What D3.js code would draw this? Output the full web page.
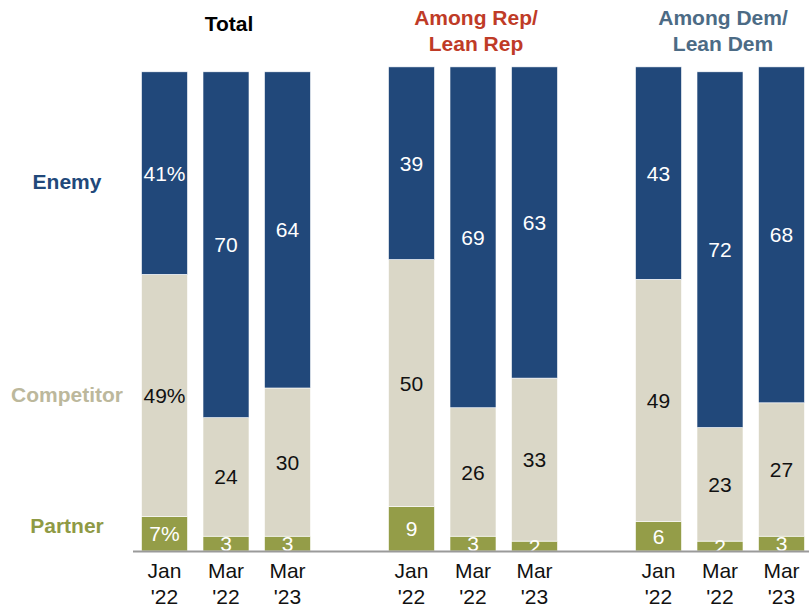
<!DOCTYPE html>
<html>
<head>
<meta charset="utf-8">
<script src="https://cdn.jsdelivr.net/npm/d3@7"></script>
<style>
  html, body { margin: 0; padding: 0; background: #fff; }
  svg text { font-family: "Liberation Sans", Arial, sans-serif; }
</style>
</head>
<body>
<svg id="chart" width="809" height="608"></svg>
<script>
// Views of China: enemy / competitor / partner, by party, three survey waves
const groups = ["Total", "Rep", "Dem"];
const groupTitles = [["Total"], ["Among Rep/", "Lean Rep"], ["Among Dem/", "Lean Dem"]];
const periods = ["Jan '22", "Mar '22", "Mar '23"];
const segments = ["Partner", "Competitor", "Enemy"];

const partner    = [[7, 3, 3], [9, 3, 2], [6, 2, 3]];
const competitor = [[49, 24, 30], [50, 26, 33], [49, 23, 27]];
const enemy      = [[41, 70, 64], [39, 69, 63], [43, 72, 68]];

const colors = { Partner: "#949d48", Competitor: "#dad7c7", Enemy: "#21487a" };
const labelColors = { Partner: "#8f9a45", Competitor: "#bcb89c", Enemy: "#21487a" };
const textColors = { Partner: "#fff", Competitor: "#111", Enemy: "#fff" };
const titleColors = ["#000", "#bf3b27", "#4c6b85"];

const svg = d3.select("#chart");

const y = d3.scaleLinear().domain([0, 100]).range([551, 57]);
// x0 gives each group's centre; x1 places the three bars around it
const x0 = d3.scalePoint().domain(groups).range([226, 720]);
const x1 = d3.scaleBand().domain(periods).range([-92.25, 92.25])
  .paddingInner(0.252).paddingOuter(0.126);

const valuesBy = { Partner: partner, Competitor: competitor, Enemy: enemy };

// Build stacked rows
const rows = [];
groups.forEach((g, gi) => {
  periods.forEach((p, pi) => {
    const row = { group: g, period: p, gi, pi };
    segments.forEach(s => row[s] = valuesBy[s][gi][pi]);
    rows.push(row);
  });
});
const stack = d3.stack().keys(segments);
const series = stack(rows);

const barsG = svg.append("g");
const valuesG = svg.append("g");

series.forEach(layer => {
  const key = layer.key;
  layer.forEach(d => {
    const r = d.data;
    const bx = x0(r.group) + x1(r.period);
    barsG.append("rect")
      .attr("x", bx)
      .attr("width", x1.bandwidth())
      .attr("y", y(d[1]))
      .attr("height", y(d[0]) - y(d[1]))
      .attr("fill", colors[key])
      .attr("stroke", "#fff")
      .attr("stroke-width", 0.6);
    const v = r[key];
    const isFirst = r.gi === 0 && r.pi === 0;
    valuesG.append("text")
      .attr("x", bx + x1.bandwidth() / 2)
      .attr("y", (y(d[0]) + y(d[1])) / 2)
      .attr("dy", "0.36em")
      .attr("text-anchor", "middle")
      .attr("font-size", 21)
      .attr("fill", textColors[key])
      .text(isFirst ? v + "%" : v);
  });
});

// Baseline
svg.append("line")
  .attr("x1", 133).attr("x2", 809)
  .attr("y1", y(0) + 0.5).attr("y2", y(0) + 0.5)
  .attr("stroke", "#9a9a9a").attr("stroke-width", 2);

// Period labels under each bar
const xAxisG = svg.append("g");
rows.forEach(r => {
  const cx = x0(r.group) + x1(r.period) + x1.bandwidth() / 2;
  const t = xAxisG.append("text")
    .attr("x", cx)
    .attr("y", 578)
    .attr("text-anchor", "middle")
    .attr("font-size", 21)
    .attr("fill", "#111");
  const parts = r.period.split(" ");
  t.append("tspan").attr("x", cx).text(parts[0]);
  t.append("tspan").attr("x", cx).attr("dy", 26).text(parts[1]);
});

// Group titles
groups.forEach((g, gi) => {
  const lines = groupTitles[gi];
  const tx = x0(g) + 3;
  const t = svg.append("text")
    .attr("x", tx)
    .attr("y", lines.length === 1 ? 31 : 25)
    .attr("text-anchor", "middle")
    .attr("font-size", 21)
    .attr("font-weight", "bold")
    .attr("fill", titleColors[gi]);
  lines.forEach((l, li) => {
    t.append("tspan").attr("x", tx).attr("dy", li ? 26 : 0).text(l);
  });
});

// Segment legend along the left, aligned to the first bar's segments
const firstLayerPos = {};
series.forEach(layer => {
  const d = layer[0];
  firstLayerPos[layer.key] = (y(d[0]) + y(d[1])) / 2;
});
const legendY = { Enemy: firstLayerPos.Enemy + 8, Competitor: firstLayerPos.Competitor - 1, Partner: firstLayerPos.Partner - 8 };
segments.forEach(s => {
  svg.append("text")
    .attr("x", 67)
    .attr("y", legendY[s])
    .attr("dy", "0.36em")
    .attr("text-anchor", "middle")
    .attr("font-size", 21)
    .attr("font-weight", "bold")
    .attr("fill", labelColors[s])
    .text(s);
});
</script>
</body>
</html>
